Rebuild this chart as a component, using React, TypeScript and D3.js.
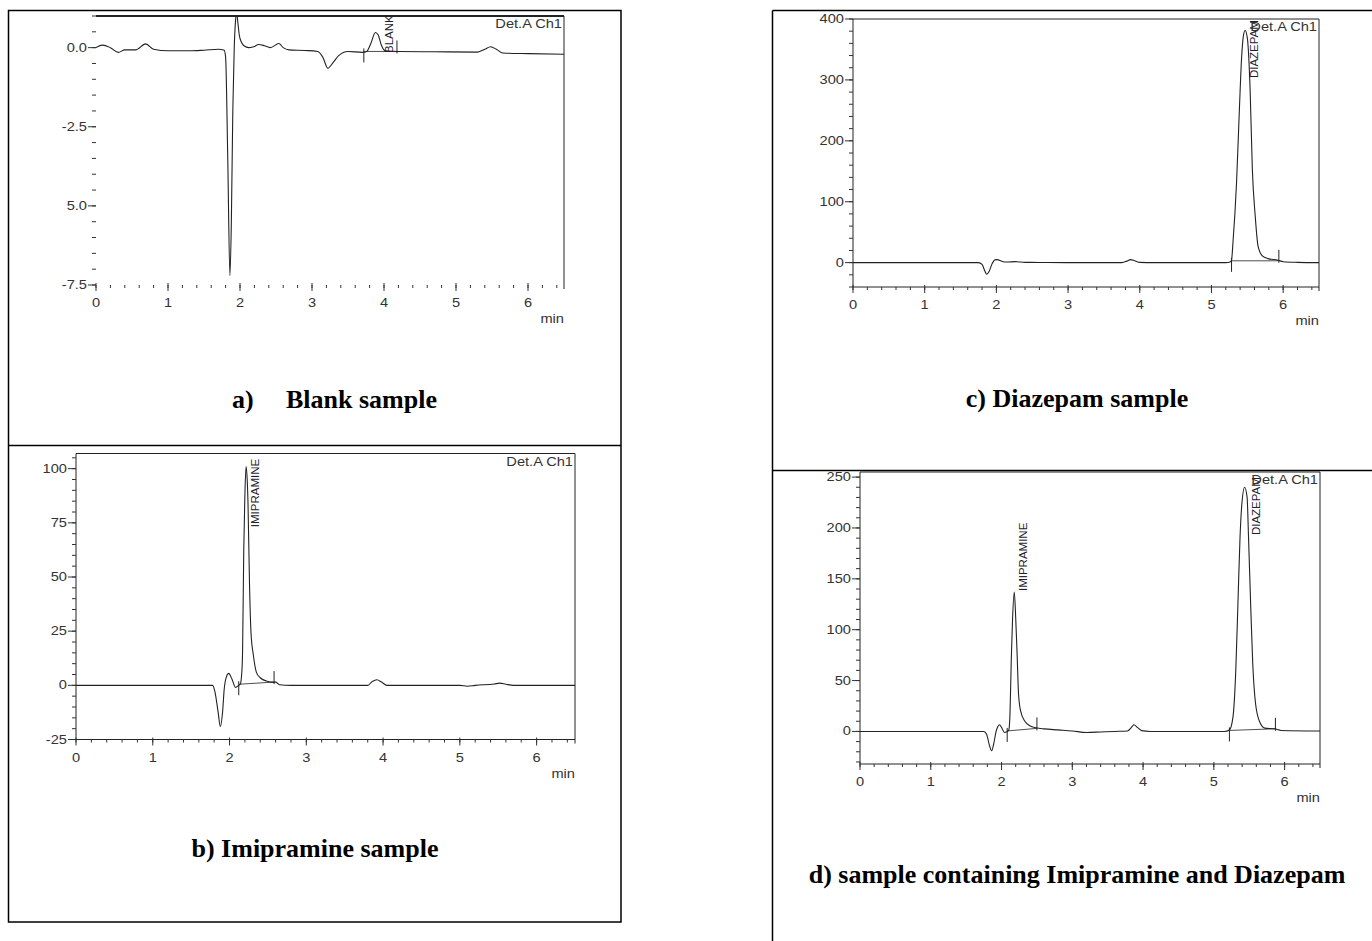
import * as d3 from "d3";

type Pt = [number, number];

// retention time axis (min)
const timeTicks = [0, 1, 2, 3, 4, 5, 6];

// a) blank sample trace [min, signal]
const blankTrace: Pt[] = [
  [0, 0.0], [0.09, 0.08], [0.2, 0.0], [0.31, -0.15], [0.4, -0.07], [0.55, -0.07],
  [0.69, 0.12], [0.8, -0.05], [1.0, -0.1], [1.3, -0.1], [1.5, -0.08], [1.7, -0.05],
  [1.78, -0.08], [1.8, -0.3], [1.83, -3.5], [1.86, -7.2], [1.88, -5.5], [1.9, -2.0],
  [1.92, 0.0], [1.94, 0.9], [1.955, 1.1], [1.97, 0.8], [1.99, 0.4], [2.02, 0.17],
  [2.06, 0.05], [2.12, 0.0], [2.19, 0.03], [2.26, 0.1], [2.34, 0.06], [2.42, 0.0],
  [2.54, 0.13], [2.6, 0.0], [2.68, -0.07], [2.9, -0.09], [3.08, -0.12], [3.15, -0.3],
  [3.22, -0.65], [3.3, -0.45], [3.37, -0.25], [3.5, -0.12], [3.7, -0.15], [3.76, -0.12],
  [3.82, 0.15], [3.88, 0.48], [3.92, 0.4], [3.96, 0.1], [4.02, -0.1], [4.2, -0.12],
  [4.7, -0.13], [5.3, -0.14], [5.4, -0.05], [5.48, 0.03], [5.56, -0.05], [5.65, -0.17],
  [6.0, -0.19], [6.5, -0.21],
];

// b) imipramine sample trace
const imipramineTrace: Pt[] = [
  [0, 0], [1.5, 0], [1.78, 0], [1.81, -3], [1.85, -12], [1.88, -19], [1.91, -12],
  [1.93, -2], [1.96, 4], [1.99, 5.5], [2.03, 3], [2.08, -1], [2.12, 0], [2.14, 0.5],
  [2.16, 6], [2.17, 16], [2.185, 62], [2.2, 88], [2.215, 101], [2.23, 95], [2.24, 85],
  [2.26, 47], [2.28, 24], [2.31, 14], [2.35, 6], [2.4, 3.5], [2.48, 2], [2.54, 1.5],
  [2.6, 1.5], [2.65, 0.3], [2.8, 0], [3.8, 0], [3.86, 1.8], [3.92, 2.6], [3.98, 1.5],
  [4.05, 0], [5.0, 0], [5.1, -0.4], [5.2, 0], [5.45, 0.6], [5.52, 1.0], [5.6, 0.5],
  [5.7, 0], [6.5, 0],
];

// c) diazepam sample trace
const diazepamTrace: Pt[] = [
  [0, 0], [1.75, 0], [1.8, -3], [1.84, -14], [1.865, -19], [1.9, -14], [1.94, -2],
  [1.98, 4.5], [2.01, 5], [2.08, 2], [2.15, 1], [2.26, 1.6], [2.4, 0.5], [2.6, 0.3],
  [3.0, 0], [3.75, 0], [3.82, 2.5], [3.87, 5], [3.93, 3], [4.0, 0.5], [4.2, 0],
  [5.2, 0], [5.26, 1], [5.28, 4], [5.3, 33], [5.35, 132], [5.39, 253], [5.42, 336],
  [5.445, 372], [5.47, 381], [5.5, 369], [5.54, 281], [5.57, 154], [5.61, 77],
  [5.65, 27], [5.71, 11], [5.79, 6.6], [5.93, 4], [6.0, 1.5], [6.2, 0.5], [6.5, 0],
];

// d) mixture trace
const mixtureTrace: Pt[] = [
  [0, 0], [1.75, 0], [1.79, -3], [1.83, -14], [1.86, -19], [1.89, -12], [1.92, -1],
  [1.95, 5], [1.97, 6.6], [2.0, 4], [2.04, -1], [2.08, 0], [2.1, 1], [2.115, 10],
  [2.14, 76], [2.155, 109], [2.18, 137], [2.2, 112], [2.22, 76], [2.24, 37], [2.27, 20],
  [2.33, 10], [2.4, 5.6], [2.49, 3.6], [2.6, 2.5], [2.8, 1.5], [3.0, 0.5], [3.2, -1],
  [3.4, -0.5], [3.6, 0], [3.78, 0.5], [3.83, 3.5], [3.87, 6.6], [3.92, 4], [3.98, 0.8],
  [4.1, 0], [5.15, 0], [5.22, 1.4], [5.27, 14], [5.31, 60], [5.34, 125], [5.37, 191],
  [5.4, 227], [5.435, 240], [5.47, 230], [5.49, 191], [5.52, 125], [5.55, 66],
  [5.59, 27], [5.65, 9], [5.72, 3.3], [5.86, 2.6], [5.95, 1], [6.5, 0.5],
];

// y tick values and their printed labels
const blankYTicks = [0, -2.5, -5, -7.5];
const blankYLabels = ["0.0", "-2.5", "5.0", "-7.5"];
const imipramineYTicks = [100, 75, 50, 25, 0, -25];
const diazepamYTicks = [400, 300, 200, 100, 0];
const mixtureYTicks = [250, 200, 150, 100, 50, 0];

// integration baselines: [start, end]
const blankBaselines: Pt[][] = [[[3.72, -0.12], [4.18, -0.12]]];
const imipramineBaselines: Pt[][] = [[[2.12, 0.5], [2.58, 1.5]]];
const diazepamBaselines: Pt[][] = [[[5.28, 3], [5.94, 3]]];
const mixtureBaselines: Pt[][] = [[[2.08, 0.5], [2.5, 3]], [[5.22, 1], [5.87, 2.6]]];

// peak names: [name, time, signal where text starts]
const blankPeaks: [string, number, number][] = [["BLANK", 4.07, -0.17]];
const imipraminePeaks: [string, number, number][] = [["IMIPRAMINE", 2.33, 73]];
const diazepamPeaks: [string, number, number][] = [["DIAZEPAM", 5.59, 303]];
const mixturePeaks: [string, number, number][] = [["IMIPRAMINE", 2.31, 138], ["DIAZEPAM", 5.59, 193]];

const panels = [
  {
    id: "a", left: 96, right: 564, top: 16, bottom: 285, yDomain: [-7.5, 1.0], minor: 0.5,
    trace: blankTrace, yTicks: blankYTicks, yLabels: blankYLabels,
    baselines: blankBaselines, peaks: blankPeaks, axisLines: false,
  },
  {
    id: "b", left: 76, right: 575, top: 453.5, bottom: 739.5, yDomain: [-25, 107], minor: 5,
    trace: imipramineTrace, yTicks: imipramineYTicks, yLabels: imipramineYTicks.map(String),
    baselines: imipramineBaselines, peaks: imipraminePeaks, axisLines: true,
  },
  {
    id: "c", left: 853, right: 1319, top: 19, bottom: 287, yDomain: [-40, 400], minor: 20,
    trace: diazepamTrace, yTicks: diazepamYTicks, yLabels: diazepamYTicks.map(String),
    baselines: diazepamBaselines, peaks: diazepamPeaks, axisLines: true,
  },
  {
    id: "d", left: 860, right: 1320, top: 472, bottom: 764, yDomain: [-32, 255], minor: 10,
    trace: mixtureTrace, yTicks: mixtureYTicks, yLabels: mixtureYTicks.map(String),
    baselines: mixtureBaselines, peaks: mixturePeaks, axisLines: true,
  },
];

const sans = "'Liberation Sans', Arial, sans-serif";
const serif = "'Liberation Serif', 'Times New Roman', serif";
const ink = "#222";

const Small = ({ x, y, anchor, children }: any) => (
  <text
    transform={`translate(${x},${y}) scale(1.22,1)`}
    textAnchor={anchor}
    fontFamily={sans}
    fontSize={12}
    fill="#333"
  >
    {children}
  </text>
);

function Panel({ p }: any) {
  const x = d3.scaleLinear().domain([0, 6.5]).range([p.left, p.right]);
  const y = d3.scaleLinear().domain(p.yDomain).range([p.bottom, p.top]);
  const line = d3
    .line<Pt>()
    .x((d) => x(d[0]))
    .y((d) => y(d[1]))
    .curve(d3.curveMonotoneX);

  const [y0, y1] = p.yDomain;
  const yMinor = d3
    .range(Math.ceil(y0 / p.minor), Math.floor(y1 / p.minor) + 1)
    .map((i) => i * p.minor);
  const xMinor = d3.range(0, 33).map((i) => i * 0.2);

  return (
    <g>
      <defs>
        <clipPath id={`clip-${p.id}`}>
          <rect x={p.left} y={p.top} width={p.right - p.left} height={p.bottom - p.top} />
        </clipPath>
      </defs>

      {/* frame */}
      <line x1={p.left} x2={p.right} y1={p.top} y2={p.top} stroke={ink} strokeWidth={p.id === "a" ? 2 : 1} />
      <line x1={p.right} x2={p.right} y1={p.top} y2={p.bottom + 4} stroke={ink} strokeWidth={1} />
      {p.axisLines && (
        <>
          <line x1={p.left} x2={p.left} y1={p.top} y2={p.bottom} stroke={ink} strokeWidth={1} />
          <line x1={p.left} x2={p.right} y1={p.bottom} y2={p.bottom} stroke={ink} strokeWidth={1} />
        </>
      )}

      {/* y axis */}
      {yMinor.map((v) => (
        <line key={"ym" + v} x1={p.left - 4} x2={p.left} y1={y(v)} y2={y(v)} stroke="#333" />
      ))}
      {p.yTicks.map((v: number, i: number) => (
        <g key={"yt" + v}>
          <line x1={p.left - 8} x2={p.left} y1={y(v)} y2={y(v)} stroke="#333" />
          <Small x={p.left - 9} y={y(v) + 4} anchor="end">{p.yLabels[i]}</Small>
        </g>
      ))}

      {/* x axis */}
      {xMinor.map((v) => (
        <line key={"xm" + v} x1={x(v)} x2={x(v)} y1={p.bottom} y2={p.bottom + 3} stroke="#333" />
      ))}
      {timeTicks.map((v) => (
        <g key={"xt" + v}>
          <line x1={x(v)} x2={x(v)} y1={p.bottom - 2} y2={p.bottom + 6} stroke="#333" />
          <Small x={x(v)} y={p.bottom + 22} anchor="middle">{v}</Small>
        </g>
      ))}
      <Small x={p.right} y={p.bottom + 38} anchor="end">min</Small>

      {/* chromatogram */}
      <g clipPath={`url(#clip-${p.id})`}>
        <path d={line(p.trace) || ""} fill="none" stroke={ink} strokeWidth={1.1} />
      </g>

      {/* integration baselines and marks */}
      {p.baselines.map((b: Pt[], i: number) => (
        <g key={"bl" + i} stroke={ink} strokeWidth={1}>
          <line x1={x(b[0][0])} x2={x(b[1][0])} y1={y(b[0][1])} y2={y(b[1][1])} strokeWidth={0.8} />
          <line x1={x(b[0][0])} x2={x(b[0][0])} y1={y(b[0][1]) - 3} y2={y(b[0][1]) + 11} />
          <line x1={x(b[1][0])} x2={x(b[1][0])} y1={y(b[1][1]) - 11} y2={y(b[1][1]) + 2} />
        </g>
      ))}

      {/* peak names */}
      {p.peaks.map((pk: [string, number, number]) => (
        <text
          key={pk[0]}
          transform={`translate(${x(pk[1]) + 4},${y(pk[2])}) rotate(-90)`}
          fontFamily={sans}
          fontSize={11.5}
          fill="#1c1c2c"
        >
          {pk[0]}
        </text>
      ))}

      <Small x={p.right - 2} y={p.top + 12} anchor="end">Det.A Ch1</Small>
    </g>
  );
}

export default function App() {
  const cap = { fontFamily: serif, fontSize: 26, fontWeight: 700, fill: "#000" } as const;
  return (
    <svg
      width={1372}
      height={941}
      style={{ position: "absolute", left: 0, top: 0, background: "#fff" }}
    >
      <rect x={0} y={0} width={1372} height={941} fill="#fff" />

      {/* table frames */}
      <g stroke="#000" strokeWidth={1.5} fill="none">
        <rect x={8.5} y={10.5} width={612.5} height={911.5} />
        <line x1={8.5} x2={621} y1={445.5} y2={445.5} />
        <line x1={772.5} x2={772.5} y1={10.5} y2={941} />
        <line x1={772.5} x2={1372} y1={10.5} y2={10.5} />
        <line x1={772.5} x2={1372} y1={470.5} y2={470.5} />
      </g>

      {panels.map((p) => (
        <Panel key={p.id} p={p} />
      ))}

      <text x={232} y={408} {...cap}>a)</text>
      <text x={286} y={408} {...cap}>Blank sample</text>
      <text x={315} y={857} textAnchor="middle" {...cap}>b) Imipramine sample</text>
      <text x={1077} y={407} textAnchor="middle" {...cap}>c) Diazepam sample</text>
      <text x={1077} y={883} textAnchor="middle" {...cap}>d) sample containing Imipramine and Diazepam</text>
    </svg>
  );
}
